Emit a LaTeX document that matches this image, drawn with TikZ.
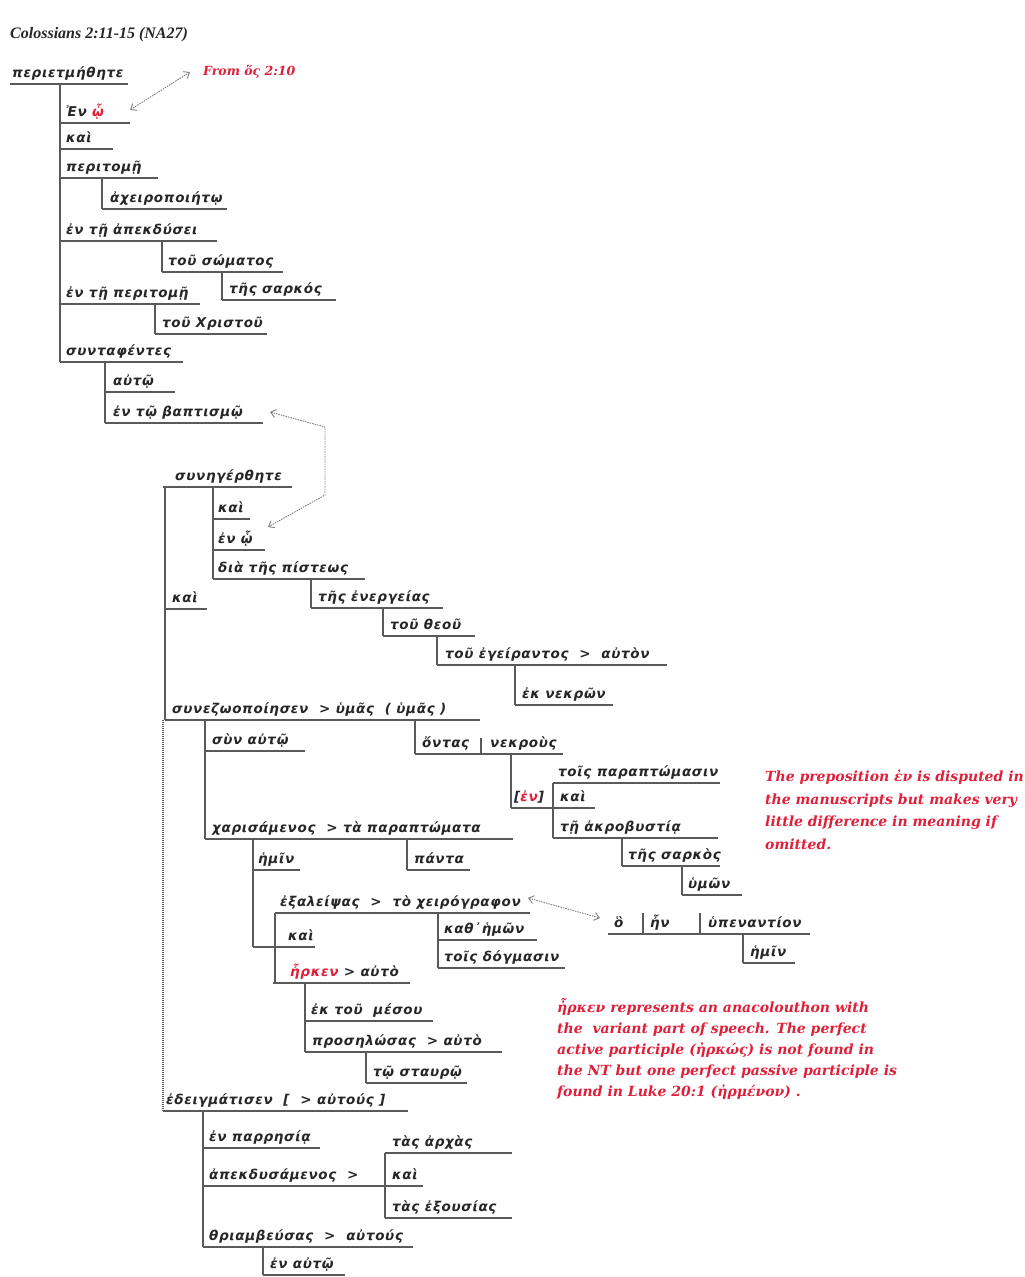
\documentclass[tikz,border=0pt]{standalone}
\usepackage{fontspec}
\setmainfont{DejaVu Sans}
\newfontfamily\gkfont[LetterSpace=5]{DejaVu Sans}
\newfontfamily\notefont{DejaVu Serif}
\newfontfamily\ttlfont{Liberation Serif}
\usetikzlibrary{arrows.meta}
\definecolor{ink}{HTML}{262626}
\definecolor{rulec}{HTML}{5A5A5A}
\definecolor{redtxt}{HTML}{E0203A}
\tikzset{
 gk/.style={font=\gkfont\bfseries\itshape\fontsize{13.5}{15}\selectfont, text=ink, anchor=base west, inner sep=0pt},
 ln/.style={draw=rulec, line width=1.4pt},
 dotln/.style={draw=rulec, line width=1.1pt, dash pattern=on 1pt off 1pt},
 note/.style={font=\notefont\bfseries\itshape\fontsize{14}{16}\selectfont, text=redtxt, anchor=base west, inner sep=0pt},
 fromnote/.style={note, font=\notefont\bfseries\itshape\fontsize{12.5}{15}\selectfont},
 ttl/.style={font=\ttlfont\bfseries\itshape\fontsize{16}{18}\selectfont, text=ink, anchor=base west, inner sep=0pt},
 conn/.style={draw=gray, line width=0.9pt, dash pattern=on 1.5pt off 1pt, {Straight Barb[length=5pt,width=8pt]}-{Straight Barb[length=5pt,width=8pt]}}
}
\newcommand\wline[6]{\node[gk] (#1) at (#5,{#4-7}) {#6}; \draw[ln] (#2,#4) -- (#3,#4);}
\newcommand\vl[3]{\draw[ln] (#1,#2) -- (#1,#3);}
\newcommand\rd[1]{{\color{redtxt}#1}}
\begin{document}
\begin{tikzpicture}[x=1pt,y=-1pt]
\useasboundingbox (0,0) rectangle (1025,1277);
\fill[white] (0,0) rectangle (1025,1277);
\node[ttl] (title) at (10,38) {Colossians 2:11-15 (NA27)};
\node[fromnote] (from) at (203,75) {From ὅς 2:10};
% group 1
\wline{a1}{10}{128}{84}{12}{περιετμήθητε}
\wline{a2}{60}{130}{123}{66}{Ἐν \rd{ᾧ}}
\wline{a3}{60}{113}{149}{66}{καὶ}
\wline{a4}{60}{158}{178}{66}{περιτομῇ}
\wline{a5}{102}{227}{209}{110}{ἀχειροποιήτῳ}
\wline{a6}{60}{217}{241}{66}{ἐν τῇ ἀπεκδύσει}
\wline{a7}{162}{283}{272}{168}{τοῦ σώματος}
\wline{a8}{222}{336}{300}{229}{τῆς σαρκός}
\wline{a9}{60}{200}{304}{66}{ἐν τῇ περιτομῇ}
\wline{a10}{155}{267}{334}{162}{τοῦ Χριστοῦ}
\wline{a11}{60}{183}{362}{66}{συνταφέντες}
\wline{a12}{105}{175}{392}{113}{αὐτῷ}
\wline{a13}{105}{263}{423}{113}{ἐν τῷ βαπτισμῷ}
\vl{60}{84}{362}
\vl{102}{178}{209}
\vl{162}{241}{272}
\vl{222}{272}{300}
\vl{155}{304}{334}
\vl{105}{362}{423}
% group 2
\wline{b1}{163}{292}{487}{175}{συνηγέρθητε}
\wline{b2}{213}{250}{519}{218}{καὶ}
\wline{b3}{213}{265}{550}{218}{ἐν ᾧ}
\wline{b4}{213}{365}{579}{218}{διὰ τῆς πίστεως}
\wline{b5}{311}{443}{608}{318}{τῆς ἐνεργείας}
\wline{b6}{383}{475}{636}{390}{τοῦ θεοῦ}
\wline{b7}{437}{667}{665}{445}{τοῦ ἐγείραντος \ > \ αὐτὸν}
\wline{b8}{515}{613}{705}{522}{ἐκ νεκρῶν}
\wline{b9}{165}{207}{609}{172}{καὶ}
\vl{165}{487}{720}
\vl{213}{487}{579}
\vl{311}{579}{608}
\vl{383}{608}{636}
\vl{437}{636}{665}
\vl{515}{665}{705}
% group 3
\wline{c1}{165}{480}{720}{172}{συνεζωοποίησεν \ > ὑμᾶς \ ( ὑμᾶς )}
\wline{c2}{205}{305}{751}{212}{σὺν αὐτῷ}
\wline{c3}{415}{563}{754}{422}{ὄντας}
\node[gk] (c3b) at (490,747) {νεκροὺς};
\vl{481}{738}{754}
\wline{c4}{553}{720}{783}{558}{τοῖς παραπτώμασιν}
\wline{c5}{511}{595}{808}{514}{[\rd{ἐν}]}
\node[gk] (c5b) at (560,801) {καὶ};
\wline{c6}{553}{718}{838}{560}{τῇ ἀκροβυστίᾳ}
\wline{c7}{622}{720}{866}{628}{τῆς σαρκὸς}
\wline{c8}{682}{742}{895}{688}{ὑμῶν}
\vl{205}{720}{839}
\vl{415}{720}{754}
\vl{511}{754}{808}
\vl{553}{783}{838}
\vl{622}{838}{866}
\vl{682}{866}{895}
% group 4
\wline{d1}{205}{513}{839}{212}{χαρισάμενος \ > τὰ παραπτώματα}
\wline{d2}{407}{470}{870}{414}{πάντα}
\wline{d3}{253}{300}{870}{258}{ἡμῖν}
\wline{d4}{275}{530}{913}{280}{ἐξαλείψας \ > \ τὸ χειρόγραφον}
\wline{d5}{253}{315}{947}{288}{καὶ}
\wline{d6}{438}{537}{940}{444}{καθ᾽ἡμῶν}
\wline{d7}{438}{565}{968}{444}{τοῖς δόγμασιν}
\vl{407}{839}{870}
\vl{253}{839}{947}
\vl{275}{913}{983}
\vl{438}{913}{968}
% relative clause
\wline{e1}{608}{810}{934}{614}{ὃ}
\node[gk] (e1b) at (650,927) {ἦν};
\node[gk] (e1c) at (708,927) {ὑπεναντίον};
\vl{643}{913}{934}
\vl{700}{913}{934}
\wline{e2}{743}{795}{963}{750}{ἡμῖν}
\vl{743}{934}{963}
% group 5
\wline{f1}{273}{410}{983}{290}{\rd{ἦρκεν} > αὐτὸ}
\wline{f2}{305}{433}{1021}{311}{ἐκ τοῦ \ μέσου}
\wline{f3}{305}{502}{1052}{312}{προσηλώσας \ > αὐτὸ}
\wline{f4}{366}{467}{1083}{373}{τῷ σταυρῷ}
\vl{305}{983}{1052}
\vl{366}{1052}{1083}
% group 6
\draw[dotln] (163,720) -- (163,1111);
\wline{g1}{163}{408}{1111}{166}{ἐδειγμάτισεν \ [ \ > αὐτούς ]}
\wline{g2}{203}{320}{1148}{209}{ἐν παρρησίᾳ}
\wline{g3}{385}{512}{1153}{392}{τὰς ἀρχὰς}
\wline{g4}{203}{423}{1186}{209}{ἀπεκδυσάμενος \ >}
\node[gk] (g4b) at (392,1179) {καὶ};
\wline{g5}{385}{512}{1218}{392}{τὰς ἐξουσίας}
\wline{g6}{203}{413}{1247}{209}{θριαμβεύσας \ > \ αὐτούς}
\wline{g7}{263}{345}{1275}{270}{ἐν αὐτῷ}
\vl{203}{1111}{1247}
\vl{385}{1153}{1218}
\vl{263}{1247}{1275}
% connectors
\coordinate (p1) at (130,110);
\coordinate (p2) at (190,72);
\draw[conn] (p1) -- (p2);
\coordinate (q1) at (270,412);
\coordinate (q2) at (325,427);
\coordinate (q3) at (325,495);
\coordinate (q4) at (268,527);
\draw[conn] (q1) -- (q2) -- (q3) -- (q4);
\coordinate (r1) at (528,898);
\coordinate (r2) at (600,918);
\draw[conn] (r1) -- (r2);
% notes
\node[note] (n1a) at (765,781) {The preposition ἐν is disputed in};
\node[note] (n1b) at (765,804) {the manuscripts but makes very};
\node[note] (n1c) at (765,826) {little difference in meaning if};
\node[note] (n1d) at (765,849) {omitted.};
\node[note] (n2a) at (557,1012) {ἦρκεν represents an anacolouthon with};
\node[note] (n2b) at (557,1033) {the \ variant part of speech. The perfect};
\node[note] (n2c) at (557,1054) {active participle (ἠρκώς) is not found in};
\node[note] (n2d) at (557,1075) {the NT but one perfect passive participle is};
\node[note] (n2e) at (557,1096) {found in Luke 20:1 (ἠρμένον) .};
\end{tikzpicture}
\end{document}
